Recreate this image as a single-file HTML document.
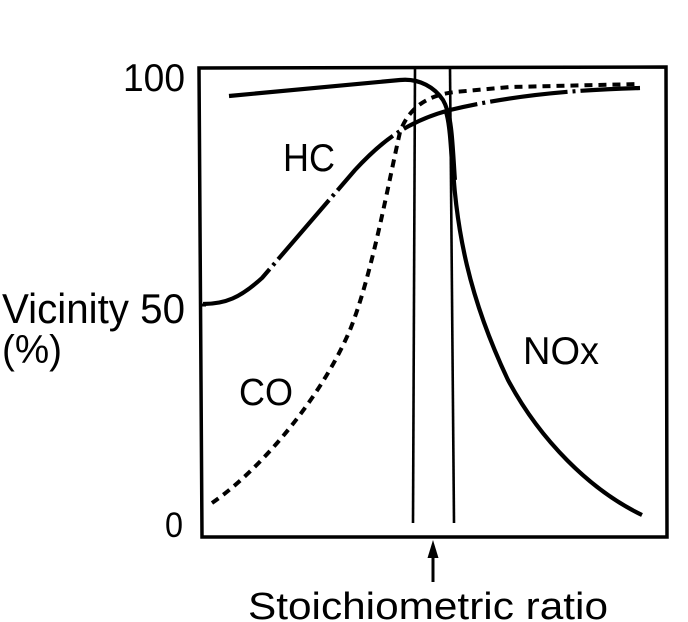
<!DOCTYPE html>
<html><head><meta charset="utf-8"><style>
html,body{margin:0;padding:0;background:#fff;}
svg{display:block;}
text{font-family:"Liberation Sans",Arial,sans-serif;fill:#000;}
</style></head><body>
<svg width="688" height="622" viewBox="0 0 688 622" xmlns="http://www.w3.org/2000/svg">
<rect width="688" height="622" fill="#fff"/>
<!-- frame -->
<path d="M199,68 L666,67 L667,537 L202,537 Z" fill="none" stroke="#000" stroke-width="3.5" stroke-linejoin="miter"/>
<!-- vertical lines -->
<line x1="415" y1="68" x2="413" y2="523" stroke="#000" stroke-width="2.6"/>
<line x1="450" y1="68" x2="454" y2="523" stroke="#000" stroke-width="2.6"/>
<!-- tick at 50 -->
<line x1="199" y1="305" x2="206" y2="305" stroke="#000" stroke-width="3"/>
<!-- HC dash-dot -->
<path d="M203,304 C225,304 240,298 262,278 L355,170 C380,143 405,122 450,110 C500,98 560,90 640,88" fill="none" stroke="#000" stroke-width="4.2" stroke-dasharray="78 5 3 5"/>
<!-- CO dashed -->
<path d="M212,503 C260,470 320,400 350,330 C372,275 388,185 400,132 C410,105 430,95 455,92 L510,87 L640,84" fill="none" stroke="#000" stroke-width="4" stroke-dasharray="8 6"/>
<!-- NOx solid -->
<path d="M229,96 L400,80 C420,78 435,88 443,100 C450,112 451,130 452,150 C455,230 470,300 508,380 C540,440 590,490 642,515" fill="none" stroke="#000" stroke-width="4.2"/>
<path d="M447,112 C451,125 452,150 454,180" fill="none" stroke="#000" stroke-width="6"/>
<!-- arrow -->
<line x1="433" y1="582" x2="433" y2="552" stroke="#000" stroke-width="3"/>
<polygon points="433,540 427.5,558 438.5,558" fill="#000"/>
<!-- labels -->
<text x="123" y="91" font-size="39" textLength="62" lengthAdjust="spacingAndGlyphs">100</text>
<text x="2" y="323" font-size="42" textLength="183" lengthAdjust="spacingAndGlyphs">Vicinity 50</text>
<text x="2" y="363" font-size="40" textLength="60" lengthAdjust="spacingAndGlyphs">(%)</text>
<text x="165" y="537" font-size="35" textLength="18" lengthAdjust="spacingAndGlyphs">0</text>
<text x="283" y="171" font-size="39" textLength="52" lengthAdjust="spacingAndGlyphs">HC</text>
<text x="239" y="405" font-size="38" textLength="54" lengthAdjust="spacingAndGlyphs">CO</text>
<text x="523" y="364" font-size="39" textLength="76" lengthAdjust="spacingAndGlyphs">NOx</text>
<text x="248" y="619" font-size="38" textLength="360" lengthAdjust="spacingAndGlyphs">Stoichiometric  ratio</text>
</svg>
</body></html>
